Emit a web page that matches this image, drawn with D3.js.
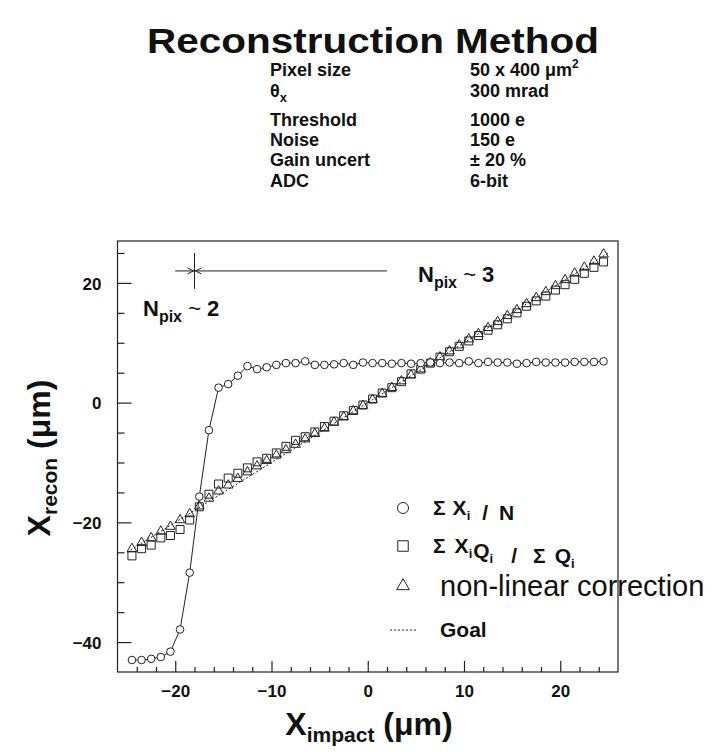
<!DOCTYPE html>
<html><head><meta charset="utf-8">
<script src="https://cdn.jsdelivr.net/npm/d3@7"></script>
<style>
body{margin:0;background:#fff;}
text{font-family:"Liberation Sans",Arial,Helvetica,sans-serif;fill:#111;}
</style></head>
<body><svg id="c" width="725" height="752"></svg>
<script>
// ---- data ----
const xImpact = [-24.5,-23.5,-22.5,-21.5,-20.5,-19.5,-18.5,-17.5,-16.5,-15.5,-14.5,-13.5,-12.5,-11.5,-10.5,-9.5,-8.5,-7.5,-6.5,-5.5,-4.5,-3.5,-2.5,-1.5,-0.5,0.5,1.5,2.5,3.5,4.5,5.5,6.5,7.5,8.5,9.5,10.5,11.5,12.5,13.5,14.5,15.5,16.5,17.5,18.5,19.5,20.5,21.5,22.5,23.5,24.5];
const meanX = [-43.0,-43.0,-42.8,-42.5,-41.6,-37.9,-28.4,-15.7,-4.6,2.5,3.1,4.5,6.1,5.6,5.9,6.3,6.6,6.6,6.9,6.3,6.3,6.4,6.6,6.3,6.7,6.6,6.6,6.5,6.6,6.5,6.6,6.7,6.6,6.7,6.6,6.9,6.6,6.8,6.7,6.7,6.5,6.6,6.8,6.7,6.7,6.7,6.8,6.8,6.8,6.9];
const chargeWeighted = [-25.6,-24.4,-23.8,-22.6,-22.2,-21.2,-19.6,-17.4,-15.3,-13.6,-12.6,-11.8,-10.9,-9.9,-9.3,-8.4,-7.3,-6.3,-5.7,-4.9,-4.0,-3.1,-2.2,-1.3,-0.4,0.6,1.6,2.5,3.5,4.8,5.6,6.6,7.6,8.5,9.4,10.3,11.2,12.1,13.0,14.0,15.0,16.1,17.0,17.8,18.8,19.7,20.6,21.6,22.6,23.5];
const nonLinear = [-24.4,-23.4,-22.6,-21.5,-20.7,-19.6,-18.6,-17.3,-16.0,-14.8,-13.8,-12.7,-11.6,-10.6,-9.7,-8.8,-7.9,-7.0,-6.1,-5.2,-4.3,-3.3,-2.4,-1.4,-0.5,0.5,1.5,2.5,3.6,4.6,5.6,6.6,7.6,8.6,9.6,10.6,11.5,12.5,13.5,14.5,15.5,16.5,17.5,18.5,19.5,20.5,21.6,22.6,23.6,24.8];
const goalX = [-25, 25];
const xTicksMajor = [-20,-10,0,10,20];
const xTicksMinor = [-24,-22,-18,-16,-14,-12,-8,-6,-4,-2,2,4,6,8,12,14,16,18,22,24];
const yTicksMajor = [-40,-20,0,20];
const yTicksMinor = [-35,-30,-25,-15,-10,-5,5,10,15,25];
const infoLabels = ["Pixel size","θ","Threshold","Noise","Gain uncert","ADC"];
const infoValues = ["50 x 400 μm","300 mrad","1000 e","150 e","± 20 %","6-bit"];
const legendLabels = ["Σ X/N","Σ XQ/ΣQ","non-linear correction","Goal"];

// ---- layout ----
const svg = d3.select("#c");
svg.append("rect").attr("width",725).attr("height",752).attr("fill","#fff");
const L=117.5, R=618, T=241, B=672;
const x = d3.scaleLinear([-26,26],[L,R]);
const y = d3.scaleLinear([-45,27],[B,T]);

// title
svg.append("text").attr("x",373).attr("y",53).attr("text-anchor","middle")
  .attr("font-size",35).attr("font-weight","bold").attr("textLength",452).attr("lengthAdjust","spacingAndGlyphs")
  .text("Reconstruction Method");

// info block
const rowY = [76,97,126,146,166,187];
const info = svg.append("g").attr("font-weight","bold").attr("font-size",18);
infoLabels.forEach((t,i)=>{
  const tx = info.append("text").attr("x",270).attr("y",rowY[i]);
  if(i===1){ tx.text("θ"); tx.append("tspan").attr("font-size",13).attr("dy",5).text("x"); }
  else tx.text(t);
  const v = info.append("text").attr("x",470).attr("y",rowY[i]);
  if(i===0){ v.text("50 x 400 μm"); v.append("tspan").attr("font-size",12).attr("dy",-8).text("2"); }
  else v.text(infoValues[i]);
});

// frame
svg.append("rect").attr("x",L).attr("y",T).attr("width",R-L).attr("height",B-T)
  .attr("fill","none").attr("stroke","#222").attr("stroke-width",1.2);

// axes
const ax = svg.append("g").attr("transform",`translate(0,${B})`);
ax.call(d3.axisBottom(x).tickValues(xTicksMajor).tickSize(-11).tickPadding(13).tickFormat(d3.format("d")));
const axm = svg.append("g").attr("transform",`translate(0,${B})`);
axm.call(d3.axisBottom(x).tickValues(xTicksMinor).tickSize(-5).tickFormat(""));
const ay = svg.append("g").attr("transform",`translate(${L},0)`);
ay.call(d3.axisLeft(y).tickValues(yTicksMajor).tickSize(-14).tickPadding(16).tickFormat(d3.format("d")));
const aym = svg.append("g").attr("transform",`translate(${L},0)`);
aym.call(d3.axisLeft(y).tickValues(yTicksMinor).tickSize(-7).tickFormat(""));
svg.selectAll(".domain").remove();
svg.selectAll(".tick line").attr("stroke","#222").attr("stroke-width",1.2);
svg.selectAll(".tick text").attr("font-size",17).attr("font-weight","bold")
  .attr("font-family","Liberation Sans, Arial, sans-serif").attr("fill","#111");
ay.selectAll(".tick text").attr("dy","0.36em");

// axis titles
const xt = svg.append("text").attr("x",369).attr("y",735).attr("text-anchor","middle").attr("font-weight","bold").attr("font-size",32);
xt.append("tspan").text("X");
xt.append("tspan").attr("font-size",21).attr("dy",7).text("impact");
xt.append("tspan").attr("dy",-7).text(" (μm)");
const yt = svg.append("text").attr("transform","translate(50,458) rotate(-90)").attr("text-anchor","middle").attr("font-weight","bold").attr("font-size",32);
yt.append("tspan").text("X");
yt.append("tspan").attr("font-size",21).attr("dy",7).text("recon");
yt.append("tspan").attr("dy",-7).text(" (μm)");

// goal line
svg.append("line").attr("x1",x(goalX[0])).attr("y1",y(goalX[0])).attr("x2",x(goalX[1])).attr("y2",y(goalX[1]))
  .attr("stroke","#222").attr("stroke-width",1).attr("stroke-dasharray","2,2");

// circles series line
const pts = xImpact.map((v,i)=>[v,meanX[i]]);
svg.append("path").attr("d",d3.line().x(d=>x(d[0])).y(d=>y(d[1]))(pts))
  .attr("fill","none").attr("stroke","#222").attr("stroke-width",1);

const g = svg.append("g").attr("fill","none").attr("stroke","#222").attr("stroke-width",1);
const sq = d3.symbol().type(d3.symbolSquare).size(64)();
const tr = d3.symbol().type(d3.symbolTriangle).size(40)();
xImpact.forEach((v,i)=>{
  g.append("path").attr("d",sq).attr("transform",`translate(${x(v)},${y(chargeWeighted[i])})`);
  g.append("path").attr("d",tr).attr("transform",`translate(${x(v)},${y(nonLinear[i])})`);
  g.append("circle").attr("cx",x(v)).attr("cy",y(meanX[i])).attr("r",3.8).attr("fill","#fff");
});

// annotation arrows
const ann = svg.append("g").attr("stroke","#222").attr("stroke-width",1).attr("fill","none");
ann.append("line").attr("x1",x(-18)).attr("x2",x(-18)).attr("y1",y(25)).attr("y2",y(19));
ann.append("line").attr("x1",x(-20)).attr("x2",x(2)).attr("y1",y(22)).attr("y2",y(22));
ann.append("path").attr("d",`M${x(-18)-7},${y(22)-3}L${x(-18)-1},${y(22)}L${x(-18)-7},${y(22)+3}`);
ann.append("path").attr("d",`M${x(-18)+7},${y(22)-3}L${x(-18)+1},${y(22)}L${x(-18)+7},${y(22)+3}`);

function npix(tx,ty,n){
  const t = svg.append("text").attr("x",tx).attr("y",ty).attr("font-weight","bold").attr("font-size",22);
  t.append("tspan").text("N");
  t.append("tspan").attr("font-size",16).attr("dy",6).text("pix");
  t.append("tspan").attr("dy",-6).attr("font-weight","normal").text(" ~ ");
  t.append("tspan").text(n);
}
npix(143,316,"2");
npix(418,282,"3");

// legend
const lg = svg.append("g");
const lx = 403, ltx = 433, ly = [508,546,586,630];
lg.append("circle").attr("cx",lx).attr("cy",ly[0]).attr("r",5.5).attr("fill","none").attr("stroke","#222");
lg.append("path").attr("d",d3.symbol().type(d3.symbolSquare).size(110)()).attr("transform",`translate(${lx},${ly[1]})`).attr("fill","none").attr("stroke","#222");
lg.append("path").attr("d",d3.symbol().type(d3.symbolTriangle).size(70)()).attr("transform",`translate(${lx},${ly[2]})`).attr("fill","none").attr("stroke","#222");
lg.append("line").attr("x1",390).attr("x2",418).attr("y1",ly[3]).attr("y2",ly[3]).attr("stroke","#222").attr("stroke-dasharray","2,2");
function part(t,s,dx){ t.append("tspan").attr("dx",dx||0).text(s); }
function sub(t,s){ t.append("tspan").attr("font-size",13).attr("dy",5).text(s); t.append("tspan").attr("dy",-5).text(""); }
let t0 = lg.append("text").attr("x",ltx).attr("y",ly[0]+7).attr("font-weight","bold").attr("font-size",21);
part(t0,"Σ"); part(t0,"X",7); sub(t0,"i"); part(t0,"/",12); part(t0,"N",11);
let t1 = lg.append("text").attr("x",ltx).attr("y",ly[1]+7).attr("font-weight","bold").attr("font-size",21);
part(t1,"Σ"); part(t1,"X",9); sub(t1,"i"); part(t1,"Q",1); sub(t1,"i"); part(t1,"/",18); part(t1,"Σ",16); part(t1,"Q",9); sub(t1,"i");
lg.append("text").attr("x",440).attr("y",ly[2]+10).attr("font-size",29).text(legendLabels[2]);
lg.append("text").attr("x",440).attr("y",ly[3]+7).attr("font-weight","bold").attr("font-size",21).text(legendLabels[3]);
</script></body></html>
